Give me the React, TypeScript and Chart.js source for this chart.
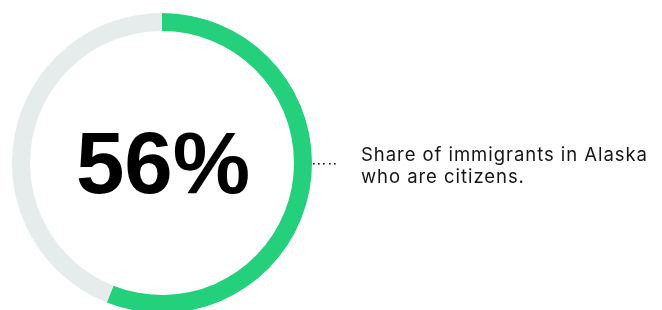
import React, { useEffect, useRef } from "react";
import { Chart, registerables } from "chart.js";

Chart.register(...registerables);

const categories = ["Citizens", "Non-citizens"];
const shareValues = [56, 44];
const centerLabel = "56%";
const descriptionLines = ["Share of immigrants in Alaska", "who are citizens."];

const annotationPlugin = {
  id: "annotations",
  afterDraw(chart: any) {
    const { ctx } = chart;
    const meta = chart.getDatasetMeta(0);
    const arc = meta.data[0];
    if (!arc) return;
    const cx = arc.x;
    const cy = arc.y;
    const r = arc.outerRadius;
    ctx.save();
    // center text
    ctx.fillStyle = "#000";
    ctx.font = "bold 87px 'Liberation Sans', Arial, sans-serif";
    ctx.textAlign = "center";
    ctx.textBaseline = "alphabetic";
    ctx.fillText(centerLabel, cx + 1, cy + 30);
    // dotted leader
    ctx.fillStyle = "#111";
    for (let i = 0; i < 5; i++) {
      ctx.fillRect(Math.round(cx + r + 0.5 + i * 5.4), Math.round(cy - 0.5), 1.6, 1.6);
    }
    // description
    ctx.fillStyle = "#151515";
    ctx.font = "18.5px Inter, sans-serif";
    ctx.textAlign = "left";
    const target = 286;
    const base = ctx.measureText(descriptionLines[0]).width;
    const spacing = (target - base) / (descriptionLines[0].length - 1);
    (ctx as any).letterSpacing = spacing.toFixed(2) + "px";
    ctx.fillText(descriptionLines[0], cx + r + 49, cy - 2);
    ctx.fillText(descriptionLines[1], cx + r + 49, cy + 20);
    ctx.restore();
  },
};

export default function App() {
  const ref = useRef<HTMLCanvasElement>(null);
  useEffect(() => {
    if (!ref.current) return;
    const chart = new Chart(ref.current, {
      type: "doughnut",
      data: {
        labels: categories,
        datasets: [
          {
            data: shareValues,
            backgroundColor: ["#25D07D", "#E6ECEC"],
            borderWidth: 0,
          },
        ],
      },
      options: {
        responsive: false,
        animation: false,
        cutout: "88%",
        rotation: 0,
        layout: { padding: { left: 12, top: 13, right: 350, bottom: 0 } },
        plugins: { legend: { display: false }, tooltip: { enabled: false } },
      },
      plugins: [annotationPlugin],
    });
    return () => chart.destroy();
  }, []);
  return (
    <div
      style={{
        position: "absolute",
        left: 0,
        top: 0,
        width: 662,
        height: 310,
        overflow: "hidden",
        background: "#fff",
      }}
    >
      <canvas ref={ref} width={662} height={313} style={{ display: "block" }} />
    </div>
  );
}
